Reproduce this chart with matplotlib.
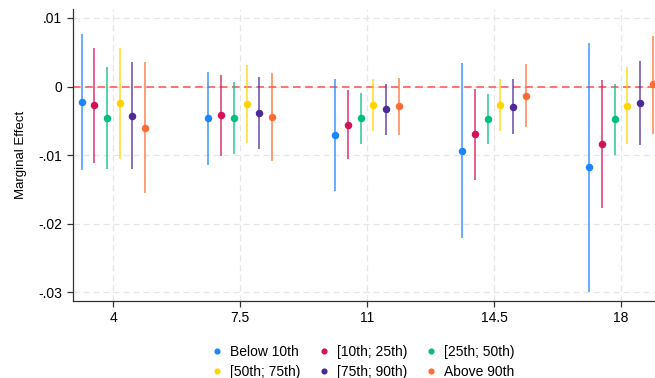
import matplotlib
matplotlib.use("Agg")
import matplotlib.pyplot as plt
import numpy as np
from matplotlib.lines import Line2D

plt.rcParams['font.family'] = ['Liberation Sans', 'DejaVu Sans']

groups = [4, 7.5, 11, 14.5, 18]
series = ["Below 10th", "[10th; 25th)", "[25th; 50th)", "[50th; 75th)", "[75th; 90th)", "Above 90th"]
colors = ["#1a85ff", "#d41159", "#00bf7f", "#ffd400", "#4b2a99", "#ff6b35"]

est = {
    "Below 10th":   [-0.00228, -0.00461, -0.00700, -0.00937, -0.01171],
    "[10th; 25th)": [-0.00272, -0.00413, -0.00554, -0.00694, -0.00835],
    "[25th; 50th)": [-0.00452, -0.00456, -0.00461, -0.00471, -0.00476],
    "[50th; 75th)": [-0.00242, -0.00252, -0.00262, -0.00267, -0.00277],
    "[75th; 90th)": [-0.00427, -0.00379, -0.00330, -0.00291, -0.00238],
    "Above 90th":   [-0.00598, -0.00442, -0.00286, -0.00136, 0.00035],
}
ci_hi = {
    "Below 10th":   [0.00764, 0.00210, 0.00117, 0.00341, 0.00642],
    "[10th; 25th)": [0.00560, 0.00170, -0.00053, -0.00039, 0.00093],
    "[25th; 50th)": [0.00283, 0.00069, -0.00097, -0.00107, 0.00039],
    "[50th; 75th)": [0.00560, 0.00312, 0.00117, 0.00107, 0.00283],
    "[75th; 90th)": [0.00355, 0.00146, 0.00034, 0.00117, 0.00370],
    "Above 90th":   [0.00360, 0.00200, 0.00131, 0.00326, 0.00743],
}
ci_lo = {
    "Below 10th":   [-0.01214, -0.01141, -0.01516, -0.02210, -0.02988],
    "[10th; 25th)": [-0.01108, -0.01006, -0.01059, -0.01355, -0.01773],
    "[25th; 50th)": [-0.01195, -0.00986, -0.00831, -0.00835, -0.00996],
    "[50th; 75th)": [-0.01059, -0.00816, -0.00641, -0.00646, -0.00831],
    "[75th; 90th)": [-0.01205, -0.00913, -0.00700, -0.00690, -0.00850],
    "Above 90th":   [-0.01555, -0.01088, -0.00709, -0.00588, -0.00685],
}
yticks = [0.01, 0, -0.01, -0.02, -0.03]
ytick_labels = [".01", "0", "-.01", "-.02", "-.03"]
xtick_labels = ["4", "7.5", "11", "14.5", "18"]

fig = plt.figure(figsize=(6.55, 3.78), dpi=100)
ax = fig.add_axes([0.111, 0.2037, 0.889, 0.772])

offsets = [-0.875, -0.525, -0.175, 0.175, 0.525, 0.875]
x = np.array(groups, dtype=float)
for s, c, off in zip(series, colors, offsets):
    xs = x + off
    ax.vlines(xs, ci_lo[s], ci_hi[s], colors=c, lw=1.25, alpha=0.75, zorder=3)
    ax.plot(xs, est[s], 'o', color=c, ms=4.4, zorder=4, clip_on=False)

ax.axhline(0, color="#ff5050", ls=(0, (5, 3)), lw=1.1, zorder=2)

ax.set_xlim(2.88, 18.94)
ax.set_ylim(-0.03124, 0.01128)
ax.set_xticks(groups)
ax.set_xticklabels(xtick_labels)
ax.set_yticks(yticks)
ax.set_yticklabels(ytick_labels)
ax.grid(True, color="#e6e6e6", ls=(0, (5, 3)), lw=0.9, zorder=0)
ax.set_axisbelow(True)
for sp in ["top", "right"]:
    ax.spines[sp].set_visible(False)
for sp in ["left", "bottom"]:
    ax.spines[sp].set_color("#333333")
    ax.spines[sp].set_linewidth(0.9)
ax.tick_params(axis='both', labelsize=10, colors="#333333", labelcolor="black", length=4, width=0.9)
ax.set_ylabel("Marginal Effect", fontsize=9.5, labelpad=8)

handles = [Line2D([], [], marker='o', ls='none', color=c, ms=3.4) for c in colors]
order = [0, 3, 1, 4, 2, 5]
fig.legend([handles[i] for i in order], [series[i] for i in order],
           loc="center", bbox_to_anchor=(0.552, 0.042), ncol=3, frameon=False,
           fontsize=10, handletextpad=0.3, columnspacing=1.15, labelspacing=0.42,
           handlelength=1.2, borderpad=0.2)

fig.savefig("out.png", dpi=100)
